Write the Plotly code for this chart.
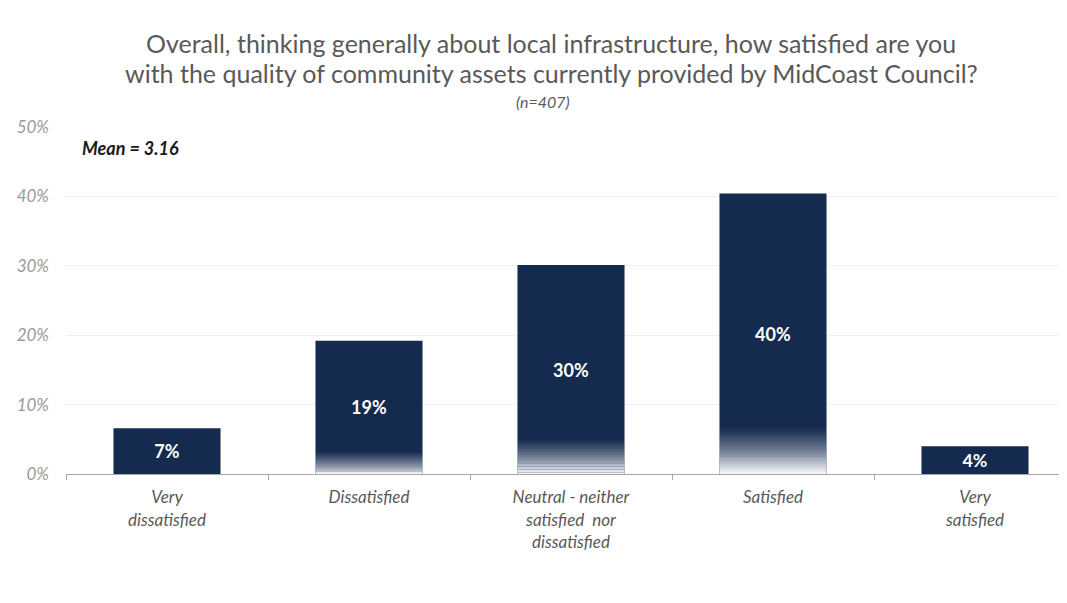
import plotly.graph_objects as go

categories = ["Very<br>dissatisfied", "Dissatisfied", "Neutral - neither<br>satisfied  nor<br>dissatisfied", "Satisfied", "Very<br>satisfied"]
values = [6.6, 19.2, 30.1, 40.4, 4.0]
tick_vals = [0, 10, 20, 30, 40, 50]
tick_text = ["0%", "10%", "20%", "30%", "40%", "50%"]

navy = "#142a4e"
fig = go.Figure()
fig.add_trace(go.Bar(
    x=categories, y=values, marker=dict(color=navy, line=dict(width=0)),
    width=0.53, text=[f"{v:.0f}%" for v in values], textposition="inside",
    insidetextanchor="middle",
    textfont=dict(color="white", size=18, family="Lato", weight="bold"),
    hoverinfo="skip"))

# white fade at the base of the taller bars
N = 24
frac = 0.17
for k in range(N):
    hs = [(v * frac / N if v > 10 else 0) for v in values]
    bases = [h * k for h in hs]
    alpha = 0.95 * (1 - k / N) ** 1.3
    fig.add_trace(go.Bar(x=categories, y=hs, base=bases, width=0.53,
                         marker=dict(color=f"rgba(255,255,255,{alpha:.3f})", line=dict(width=0)),
                         hoverinfo="skip"))

# page body has an 8px margin in the browser
OFF = 8
W, H = 1067, 603
pl, pt, pb = 66 - OFF, 127 - OFF, 129 + OFF
ph = H - pt - pb
pw = W - pl

fig.update_layout(
    width=W, height=H, barmode="overlay", showlegend=False,
    plot_bgcolor="white", paper_bgcolor="white",
    margin=dict(l=pl, r=0, t=pt, b=pb, autoexpand=False),
    font=dict(family="Lato", color="#595959"),
    xaxis=dict(range=[-0.5, -0.5 + pw / 202.0], showline=True, linecolor="#a6a6a6", linewidth=1,
               ticks="outside", tickson="boundaries", ticklen=5, tickcolor="#a6a6a6",
               ticklabelstandoff=8,
               tickfont=dict(size=17, style="italic", color="#595959"),
               showgrid=False, fixedrange=True),
    yaxis=dict(range=[0, 50], tickvals=tick_vals, ticktext=tick_text,
               showgrid=True, gridcolor="#efefef", gridwidth=1, zeroline=False,
               tickfont=dict(size=17, style="italic", color="#9a9a9a"), ticks="",
               ticklabelstandoff=16),
)

def ypx(py):
    return (H - pb - (py - OFF)) / ph

def xpx(px):
    return (px - OFF - pl) / pw

fig.update_layout(annotations=[
    dict(text="Overall, thinking generally about local infrastructure, how satisfied are you",
         x=xpx(551), xref="paper", y=ypx(43), yref="paper", yanchor="middle", showarrow=False,
         font=dict(size=25, color="#595959", family="Lato")),
    dict(text="with the quality of community assets currently provided by MidCoast Council?",
         x=xpx(551), xref="paper", y=ypx(73), yref="paper", yanchor="middle", showarrow=False,
         font=dict(size=25, color="#595959", family="Lato")),
    dict(text="(n=407)", x=xpx(543), xref="paper", y=ypx(101), yref="paper", yanchor="middle",
         showarrow=False, font=dict(size=16, color="#595959", family="Lato", style="italic")),
    dict(text="<b><i>Mean = 3.16</i></b>", x=xpx(80), xref="paper", y=ypx(148), yref="paper",
         xanchor="left", yanchor="middle", showarrow=False,
         font=dict(size=18, color="#1a1a1a", family="Lato")),
])

fig.write_html("out.html")
